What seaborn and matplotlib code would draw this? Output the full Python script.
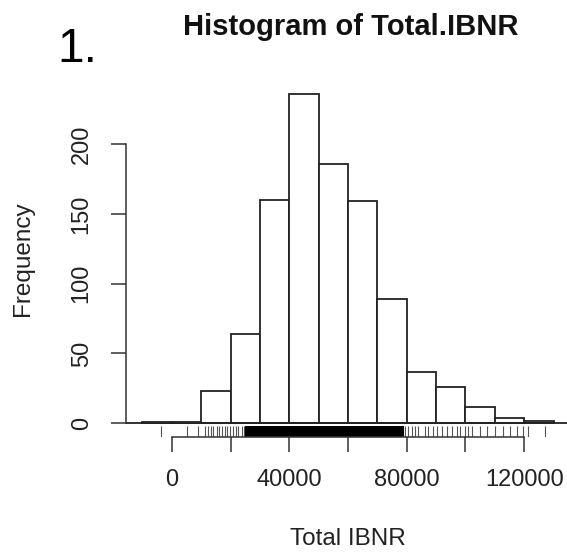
import numpy as np
import matplotlib
matplotlib.use("Agg")
import matplotlib.pyplot as plt
import seaborn as sns

# histogram bins (width 10000) and counts
bin_edges = [-10000, 0, 10000, 20000, 30000, 40000, 50000, 60000, 70000,
             80000, 90000, 100000, 110000, 120000, 130000]
counts = [1, 1, 23, 64, 160, 236, 186, 159, 89, 37, 26, 12, 4, 2]

# rug ticks: separate lines in the tails, solid band in the middle
rug_tails = [-3750, 5100, 8860, 11240, 12270, 13290, 13970, 15330, 16010,
             17040, 18060, 18740, 19760, 20780, 21800, 22490, 23850, 24530,
             79380, 80410, 81770, 82790, 83810, 86200, 87220, 88920, 90290,
             91990, 93690, 95400, 97100, 98100, 99830, 100850, 102210,
             104940, 107320, 110050, 112770, 115160, 117540, 119580, 121290,
             127080]
rug_core = [26000, 28000, 30000, 32000, 34000, 36000, 38000, 40000, 42000,
            44000, 46000, 48000, 50000, 52000, 54000, 56000, 58000, 60000,
            62000, 64000, 66000, 68000, 70000, 72000, 74000, 76000, 78000]

x_ticks = [0, 20000, 40000, 60000, 80000, 100000, 120000]
x_labels = ["0", "", "40000", "", "80000", "", "120000"]
y_ticks = [0, 50, 100, 150, 200]

sns.set_style("ticks")
plt.rcParams['font.family'] = ['Liberation Sans', 'DejaVu Sans']

fig = plt.figure(figsize=(5.67, 5.54), dpi=100)
ax = fig.add_axes([126 / 567, (554 - 436.5) / 554, (570 - 126) / 567, (436.5 - 80.6) / 554])

mids = [(a + b) / 2 for a, b in zip(bin_edges[:-1], bin_edges[1:])]
sns.histplot(x=mids, weights=counts, bins=bin_edges, color="white",
             edgecolor="#222222", linewidth=1.3, alpha=1, ax=ax)
ax.axhline(0, color="#222222", lw=1.3, zorder=3)

sns.rugplot(x=rug_tails, height=0.03, color="#555555", linewidth=0.8,
            expand_margins=False, ax=ax)
sns.rugplot(x=rug_core, height=0.03, color="black", linewidth=4.4,
            expand_margins=False, ax=ax)

ax.set_xlim(-15600, 135600)
ax.set_ylim(-9.44, 245.4)

for s in ["top", "right"]:
    ax.spines[s].set_visible(False)
ax.spines["left"].set_bounds(0, 200)
ax.spines["bottom"].set_bounds(0, 120000)
for s in ["left", "bottom"]:
    ax.spines[s].set_color("#333333")
    ax.spines[s].set_linewidth(1.1)

ax.set_xticks(x_ticks)
ax.set_xticklabels(x_labels)
ax.set_yticks(y_ticks)
ax.set_yticklabels([str(v) for v in y_ticks], rotation=90, va="center")
ax.tick_params(axis="both", direction="out", length=10.5, width=1.1,
               color="#333333", labelsize=17, labelcolor="#222222",
               bottom=True, left=True)
ax.tick_params(axis="x", pad=13)
ax.tick_params(axis="y", pad=13.5)

ax.set_xlabel("Total IBNR", fontsize=17.5, color="#222222")
ax.set_ylabel("Frequency", fontsize=17.5, color="#222222")
ax.xaxis.set_label_coords(0.5, -0.257)
ax.yaxis.set_label_coords(-0.207, 0.5)

fig.text(351 / 567, (554 - 35) / 554, "Histogram of Total.IBNR", ha="center",
         va="baseline", fontsize=21, fontweight="bold", color="#111111")
fig.text(57 / 567, (554 - 61.5) / 554, "1.", ha="left", va="baseline",
         fontsize=34.5, color="black")

fig.savefig("out.png", dpi=100)
